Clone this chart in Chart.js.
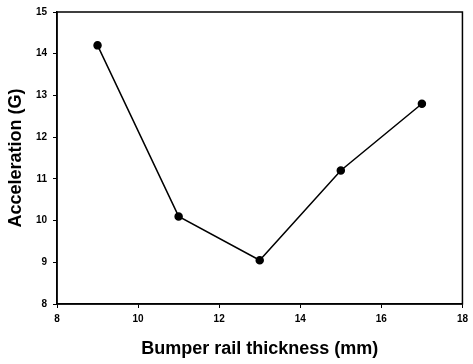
<!DOCTYPE html>
<html>
<head>
<meta charset="utf-8">
<script src="https://cdn.jsdelivr.net/npm/chart.js@4"></script>
<style>
  body { margin: 0; background: #fff; }
</style>
</head>
<body>
<canvas id="myChart" width="473" height="364"></canvas>
<script>
const thickness = [9, 11, 13, 15, 17];
const acceleration = [14.2, 10.1, 9.05, 11.2, 12.8];

const points = thickness.map((t, i) => ({ x: t, y: acceleration[i] }));

// draw the box round the plot area
const frame = {
  id: "frame",
  afterDraw(chart) {
    const a = chart.chartArea;
    const ctx = chart.ctx;
    ctx.save();
    ctx.strokeStyle = "#000";
    ctx.lineWidth = 1.5;
    ctx.strokeRect(a.left, a.top, a.right - a.left, a.bottom - a.top);
    ctx.restore();
  },
};

const tickFont = { family: "Liberation Sans", size: 10, weight: "bold" };
const titleFont = { family: "Liberation Sans", size: 18, weight: "bold" };

const config = {
  type: "scatter",
  data: {
    datasets: [
      {
        data: points,
        showLine: true,
        borderColor: "#000",
        backgroundColor: "#000",
        borderWidth: 1.5,
        pointRadius: 3.5,
        pointHoverRadius: 3.5,
      },
    ],
  },
  options: {
    responsive: false,
    animation: false,
    layout: { padding: { top: 10, right: 6, left: 0, bottom: 0 } },
    plugins: { legend: { display: false }, tooltip: { enabled: false } },
    scales: {
      x: {
        type: "linear",
        min: 8,
        max: 18,
        afterFit: (s) => { s.height = 60; },
        ticks: { stepSize: 2, color: "#000", font: tickFont, padding: 5 },
        grid: { drawOnChartArea: false, tickLength: 4, color: "#000" },
        border: { color: "#000", width: 1.5 },
        title: { display: true, text: "Bumper rail thickness (mm)", color: "#000", font: titleFont, padding: { top: 4, bottom: 4 } },
      },
      y: {
        min: 8,
        max: 15,
        afterFit: (s) => { s.width = 57; },
        ticks: { stepSize: 1, color: "#000", font: tickFont, padding: 6 },
        grid: { drawOnChartArea: false, tickLength: 4, color: "#000" },
        border: { color: "#000", width: 1.5 },
        title: { display: true, text: "Acceleration (G)", color: "#000", font: titleFont, padding: { top: 5, bottom: 4 } },
      },
    },
  },
  plugins: [frame],
};

const myChart = new Chart(document.getElementById("myChart"), config);
</script>
</body>
</html>
